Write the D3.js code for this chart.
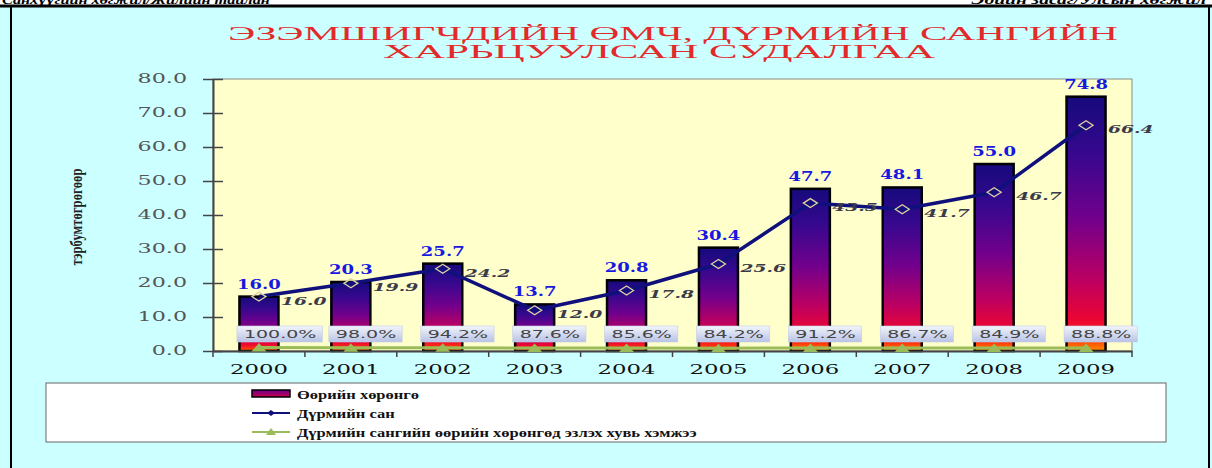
<!DOCTYPE html>
<html><head><meta charset="utf-8">
<script src="https://cdn.jsdelivr.net/npm/d3@7"></script>
<style>body{margin:0;background:#CCFFFF;}svg{display:block;}</style>
</head><body>
<svg id="c" width="1212" height="468"></svg>
<script>
// ---- data ----
const years = ["2000","2001","2002","2003","2004","2005","2006","2007","2008","2009"];
const ownCapital = [16.0,20.3,25.7,13.7,20.8,30.4,47.7,48.1,55.0,74.8];   // Өөрийн хөрөнгө
const charterFund = [16.0,19.9,24.2,12.0,17.8,25.6,43.5,41.7,46.7,66.4];  // Дүрмийн сан
const sharePct = [100.0,98.0,94.2,87.6,85.6,84.2,91.2,86.7,84.9,88.8];    // эзлэх хувь
const yTicks = [0,10,20,30,40,50,60,70,80];
const titleLines = ["ЭЗЭМШИГЧДИЙН ӨМЧ, ДҮРМИЙН САНГИЙН","ХАРЬЦУУЛСАН СУДАЛГАА"];
const yTitle = "тэрбумтөгрөгөөр";
const legendLabels = ["Өөрийн хөрөнгө","Дүрмийн сан","Дүрмийн сангийн  өөрийн хөрөнгөд эзлэх хувь хэмжээ"];
const headerLeft = "Санхүүгийн хөгжил/Жилийн тайлан";
const headerRight = "Эдийн засаг/Улсын хөгжил";

const svg = d3.select("#c");
const W = 1212, H = 468;
const L = 213, R = 1132, T = 79, B = 351;

const defs = svg.append("defs");
const bg = defs.append("linearGradient").attr("id","barGrad").attr("x1",0).attr("y1",0).attr("x2",0).attr("y2",1);
[[0,"#160a7c"],[0.22,"#36088e"],[0.48,"#72008c"],[0.72,"#bc0062"],[0.88,"#ec0632"],[0.95,"#ff3010"],[1,"#ff8c00"]]
  .forEach(s=>bg.append("stop").attr("offset",s[0]).attr("stop-color",s[1]));
const lg = defs.append("linearGradient").attr("id","lblGrad").attr("x1",0).attr("y1",0).attr("x2",0).attr("y2",1);
[[0,"#f2f5fc"],[1,"#b8c2e4"]].forEach(s=>lg.append("stop").attr("offset",s[0]).attr("stop-color",s[1]));
const sg = defs.append("linearGradient").attr("id","swGrad").attr("x1",0).attr("y1",0).attr("x2",0).attr("y2",1);
[[0,"#6a0090"],[1,"#c8004a"]].forEach(s=>sg.append("stop").attr("offset",s[0]).attr("stop-color",s[1]));

// background & frame
svg.append("rect").attr("width",W).attr("height",H).attr("fill","#CCFFFF");
svg.append("rect").attr("width",W).attr("height",5).attr("fill","#ffffff");
svg.append("text").attr("transform","translate(2,4) scale(1.25,1)").attr("font-family","Liberation Serif").attr("font-style","italic")
  .attr("font-weight","bold").attr("font-size",13).text(headerLeft);
svg.append("text").attr("transform","translate(1206,4) scale(1.5,1)").attr("text-anchor","end").attr("font-family","Liberation Serif").attr("font-style","italic")
  .attr("font-weight","bold").attr("font-size",13).text(headerRight);
svg.append("rect").attr("x",0).attr("y",4.5).attr("width",W).attr("height",3).attr("fill","#000");
svg.append("rect").attr("x",10).attr("y",6).attr("width",2).attr("height",H).attr("fill","#000");
svg.append("rect").attr("x",1208).attr("y",6).attr("width",2).attr("height",H).attr("fill","#000");

// title
svg.append("text").attr("x",673).attr("y",39.5).attr("text-anchor","middle")
  .attr("font-family","Liberation Serif").attr("font-size",18).attr("fill","#e22a2a")
  .attr("textLength",890).attr("lengthAdjust","spacingAndGlyphs").text(titleLines[0]);
svg.append("text").attr("x",659).attr("y",57.5).attr("text-anchor","middle")
  .attr("font-family","Liberation Serif").attr("font-size",18).attr("fill","#e22a2a")
  .attr("textLength",552).attr("lengthAdjust","spacingAndGlyphs").text(titleLines[1]);

// scales
const x = d3.scaleBand().domain(years).range([L,R]).padding(0);
const y = d3.scaleLinear().domain([0,80]).range([B,T]);
const cx = d => x(d) + x.bandwidth()/2;
const barW = 39;

// plot area
svg.append("rect").attr("x",L).attr("y",T).attr("width",R-L).attr("height",B-T)
  .attr("fill","#FFFFCC").attr("stroke","#8a8a8a").attr("stroke-width",1);

// y axis
const yAxis = svg.append("g").attr("transform",`translate(${L},0)`)
  .call(d3.axisLeft(y).tickValues(yTicks).tickSizeInner(10).tickSizeOuter(0).tickFormat(d3.format(".1f")));
yAxis.select(".domain").attr("stroke","#444").attr("stroke-width",2);
yAxis.selectAll(".tick line").attr("stroke","#444").attr("stroke-width",1.5);
yAxis.selectAll(".tick").append("line").attr("x1",0).attr("x2",10).attr("stroke","#444").attr("stroke-width",1.5);
yAxis.selectAll(".tick text").attr("x",null)
  .attr("transform","translate(-26,0) scale(1.85,1)")
  .attr("font-family","DejaVu Serif").attr("font-size",12).attr("fill","#555");

// y title
svg.append("text").attr("transform","translate(82,217) rotate(-90)").attr("text-anchor","middle")
  .attr("font-family","Liberation Serif").attr("font-weight","bold").attr("font-size",16).attr("fill","#222")
  .attr("textLength",97).attr("lengthAdjust","spacingAndGlyphs").text(yTitle);

// bars
svg.append("g").selectAll("rect").data(years).join("rect")
  .attr("x",(d)=>cx(d)-barW/2).attr("y",(d,i)=>y(ownCapital[i]))
  .attr("width",barW).attr("height",(d,i)=>y(0)-y(ownCapital[i]))
  .attr("fill","url(#barGrad)").attr("stroke","#000").attr("stroke-width",2.5);

// x axis
const xAxis = svg.append("g").attr("transform",`translate(0,${B})`)
  .call(d3.axisBottom(x).tickSize(0).tickSizeOuter(0));
xAxis.select(".domain").attr("stroke","#444").attr("stroke-width",2);
xAxis.selectAll(".tick text").attr("y",null).attr("dy",null)
  .attr("transform","translate(0,23) scale(1.75,1)")
  .attr("font-family","DejaVu Serif").attr("font-size",13).attr("fill","#111");
const bounds = years.map(d=>x(d)).concat([R]);
xAxis.selectAll("line.bt").data(bounds).join("line").attr("class","bt")
  .attr("x1",d=>d).attr("x2",d=>d).attr("y1",0).attr("y2",6).attr("stroke","#444").attr("stroke-width",1.5);

// bar value labels
svg.append("g").selectAll("text").data(years).join("text")
  .attr("transform",(d,i)=>`translate(${cx(d)},${y(ownCapital[i])-8}) scale(1.5,1)`)
  .attr("text-anchor","middle").attr("font-family","DejaVu Serif").attr("font-weight","bold")
  .attr("font-size",12).attr("fill","#1818e0").text((d,i)=>ownCapital[i].toFixed(1));

// charter fund line
const line = d3.line().x((d,i)=>cx(years[i])).y(d=>y(d));
svg.append("path").datum(charterFund).attr("d",line).attr("fill","none")
  .attr("stroke","#10107c").attr("stroke-width",3.5).attr("stroke-linejoin","round");
svg.append("g").selectAll("path").data(charterFund).join("path")
  .attr("d","M-7,0L0,-4.5L7,0L0,4.5Z")
  .attr("transform",(d,i)=>`translate(${cx(years[i])},${y(d)})`)
  .attr("fill","none").attr("stroke","#ddd3a0").attr("stroke-width",1.3);
svg.append("g").selectAll("text").data(charterFund).join("text")
  .attr("transform",(d,i)=>`translate(${cx(years[i])+22},${y(d)+8}) scale(1.7,1)`)
  .attr("font-family","DejaVu Serif").attr("font-weight","bold").attr("font-style","italic")
  .attr("font-size",11).attr("fill","#3a3a48").text(d=>d.toFixed(1));

// share line (fraction plotted on same axis)
const line2 = d3.line().x((d,i)=>cx(years[i])).y(d=>y(d/100));
svg.append("path").datum(sharePct).attr("d",line2).attr("fill","none")
  .attr("stroke","#9bbb59").attr("stroke-width",3);
svg.append("g").selectAll("path").data(sharePct).join("path")
  .attr("d","M-7.5,4L0,-4.5L7.5,4Z")
  .attr("transform",(d,i)=>`translate(${cx(years[i])},${y(d/100)})`)
  .attr("fill","#9bbb59");

// percentage labels with boxes
const pg = svg.append("g").selectAll("g").data(sharePct).join("g")
  .attr("transform",(d,i)=>`translate(${cx(years[i])-22},326)`);
pg.append("rect").attr("x",0).attr("y",0).attr("height",16)
  .attr("fill","url(#lblGrad)").attr("stroke","#c4cce6").attr("stroke-width",0.6);
const pTxt = pg.append("text").attr("transform","translate(7,12) scale(1.9,1)")
  .attr("font-family","DejaVu Sans").attr("font-size",10).attr("fill","#444")
  .text(d=>d.toFixed(1)+"%");
pTxt.each(function(){
  const w = this.getComputedTextLength()*1.9;
  d3.select(this.parentNode).select("rect").attr("width",w+13);
});

// legend
svg.append("rect").attr("x",46).attr("y",383).attr("width",1120).attr("height",59)
  .attr("fill","#ffffff").attr("stroke","#666").attr("stroke-width",1);
const legY = [394,413,432];
svg.append("rect").attr("x",252).attr("y",390).attr("width",38).attr("height",7)
  .attr("fill","url(#swGrad)").attr("stroke","#000").attr("stroke-width",1.5);
svg.append("line").attr("x1",252).attr("x2",290).attr("y1",legY[1]).attr("y2",legY[1]).attr("stroke","#10107c").attr("stroke-width",2);
svg.append("path").attr("d","M-4,0L0,-3L4,0L0,3Z").attr("transform",`translate(271,${legY[1]})`).attr("fill","#10107c");
svg.append("line").attr("x1",252).attr("x2",290).attr("y1",legY[2]).attr("y2",legY[2]).attr("stroke","#9bbb59").attr("stroke-width",2);
svg.append("path").attr("d","M-5,3L0,-4L5,3Z").attr("transform",`translate(271,${legY[2]})`).attr("fill","#9bbb59");
svg.append("g").selectAll("text").data(legendLabels).join("text")
  .attr("transform",(d,i)=>`translate(297,${legY[i]+4.5}) scale(1.27,1)`)
  .attr("font-family","Liberation Serif").attr("font-weight","bold").attr("font-size",13).attr("fill","#111")
  .text(d=>d);
</script>
</body></html>
